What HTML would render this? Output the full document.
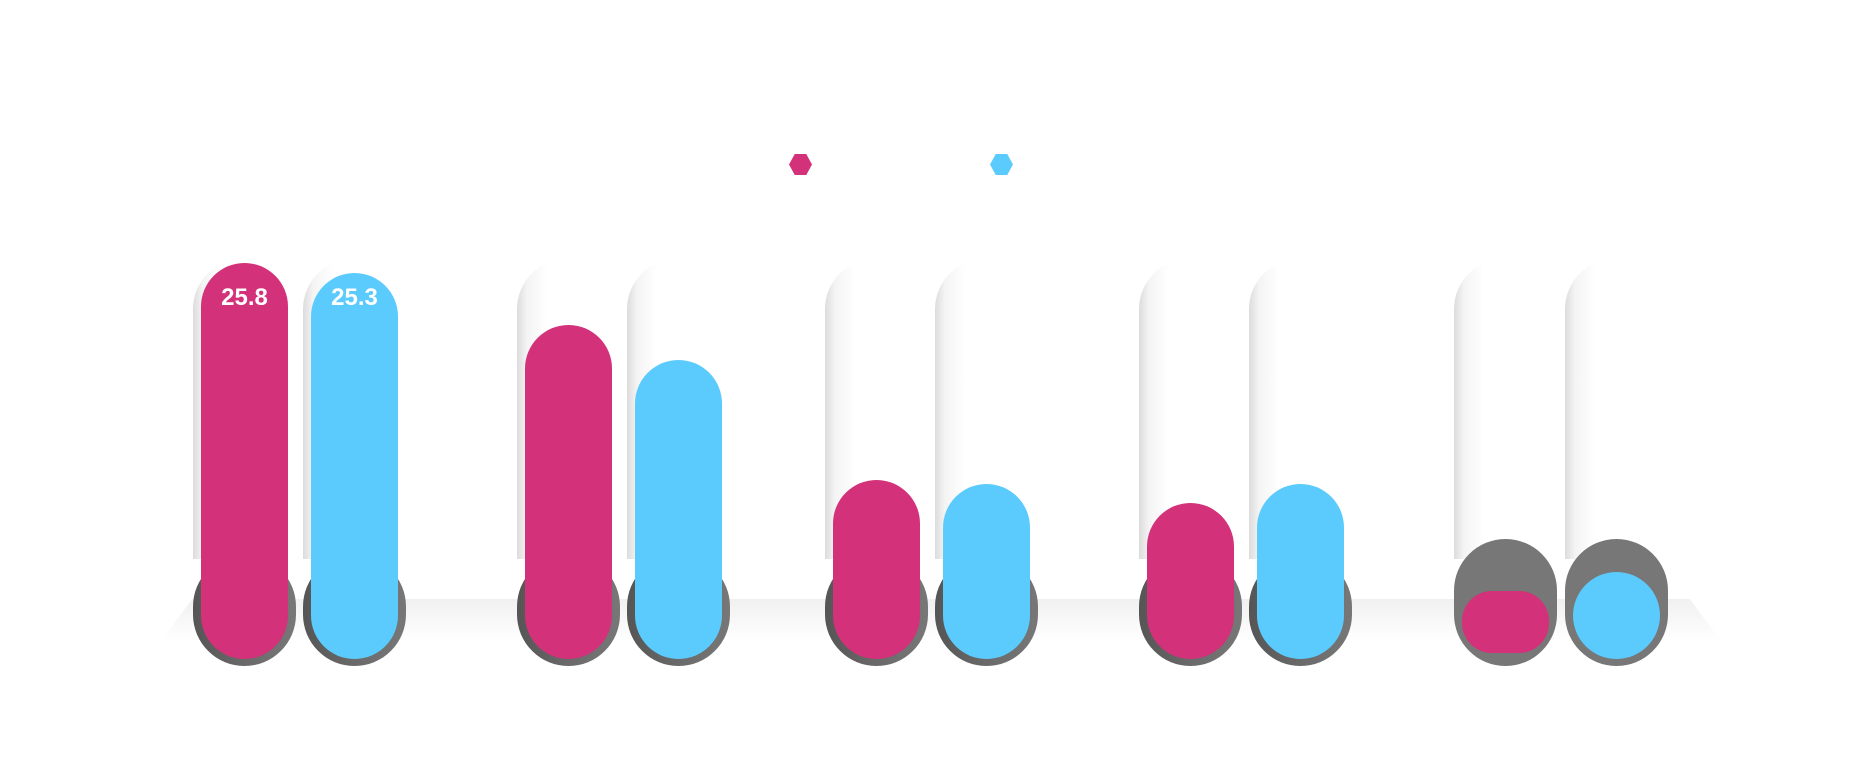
<!DOCTYPE html>
<html><head><meta charset="utf-8"><style>
body{margin:0;width:1857px;height:759px;background:#fff;position:relative;overflow:hidden;font-family:"Liberation Sans",sans-serif}
div{position:absolute;box-sizing:border-box}
.track{width:103px;top:259px;height:300px;border-radius:50px 0 0 0;background:linear-gradient(90deg,#dcdcdc 0,#f4f4f4 10px,#fff 30px,#fff 100%)}
.cap{width:103px;top:555px;height:111px;border-radius:52px;background:linear-gradient(90deg,#555,#6a6a6a 50%,#777)}
.cap5{top:539px;height:127px;background:#777}
.bar{width:87px;border-radius:44px;bottom:100px}
.p{background:#d33179}.c{background:#5bcbfd}
.lbl{color:#fff;font-weight:bold;font-size:24px;width:87px;text-align:center;top:284px}
</style></head><body>
<div style="left:161px;top:599px;width:1560px;height:42px;background:linear-gradient(#f0f0f0,#fff);clip-path:polygon(2% 0,98% 0,100% 100%,0 100%)"></div>

<div style="left:789px;top:154px;width:23px;height:21px;background:#d33179;clip-path:polygon(25% 0,75% 0,100% 50%,75% 100%,25% 100%,0 50%)"></div>
<div style="left:990px;top:154px;width:23px;height:21px;background:#5bcbfd;clip-path:polygon(25% 0,75% 0,100% 50%,75% 100%,25% 100%,0 50%)"></div>

<div class="track" style="left:193px"></div><div class="track" style="left:303px"></div>
<div class="track" style="left:517px"></div><div class="track" style="left:627px"></div>
<div class="track" style="left:825px"></div><div class="track" style="left:935px"></div>
<div class="track" style="left:1139px"></div><div class="track" style="left:1249px"></div>
<div class="track" style="left:1454px"></div><div class="track" style="left:1565px"></div>

<div class="cap" style="left:193px"></div><div class="cap" style="left:303px"></div>
<div class="cap" style="left:517px"></div><div class="cap" style="left:627px"></div>
<div class="cap" style="left:825px"></div><div class="cap" style="left:935px"></div>
<div class="cap" style="left:1139px"></div><div class="cap" style="left:1249px"></div>
<div class="cap cap5" style="left:1454px"></div><div class="cap cap5" style="left:1565px"></div>

<div class="bar p" style="left:201px;top:263px"></div>
<div class="bar c" style="left:311px;top:273px"></div>
<div class="bar p" style="left:525px;top:325px"></div>
<div class="bar c" style="left:635px;top:360px"></div>
<div class="bar p" style="left:833px;top:480px"></div>
<div class="bar c" style="left:943px;top:484px"></div>
<div class="bar p" style="left:1147px;top:503px"></div>
<div class="bar c" style="left:1257px;top:484px"></div>
<div class="bar p" style="left:1462px;top:591px;bottom:106px;border-radius:30px"></div>
<div class="bar c" style="left:1573px;top:572px"></div>

<div class="lbl" style="left:201px">25.8</div>
<div class="lbl" style="left:311px">25.3</div>
</body></html>
